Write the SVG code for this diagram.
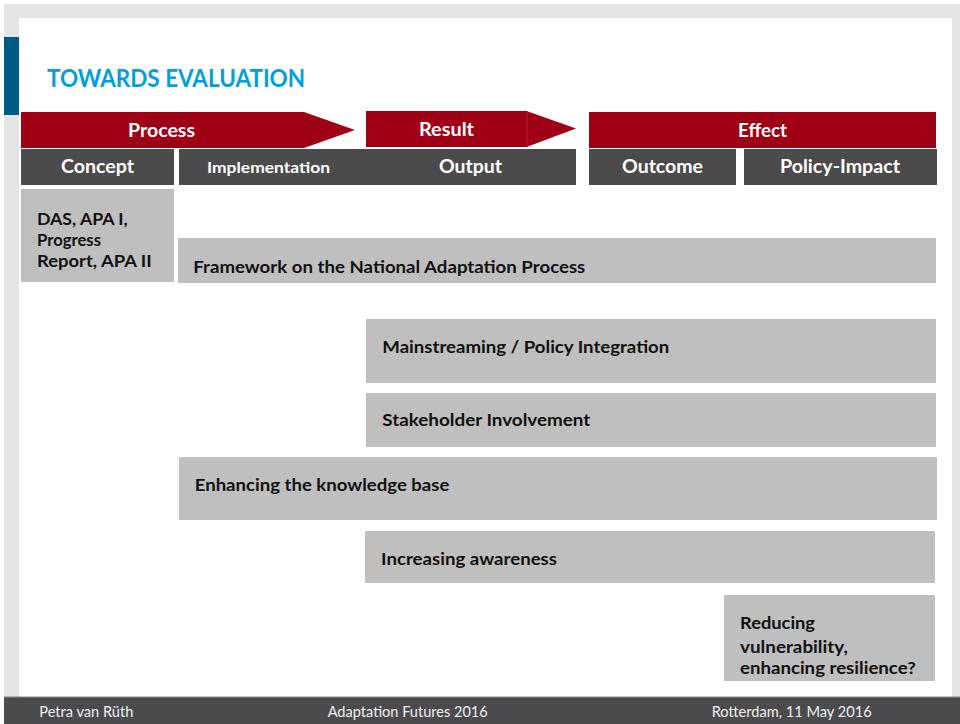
<svg xmlns="http://www.w3.org/2000/svg" width="960" height="724" viewBox="0 0 960 724">
<style>
.red{fill:#a00015}
.dark{fill:#4b4b4b}
.box{fill:#bfbfbf}
.hw{font-family:Lato,"Liberation Sans",sans-serif;font-weight:bold;fill:#ffffff}
.bt{font-family:Lato,"Liberation Sans",sans-serif;font-weight:bold;font-size:17px;fill:#111111}
.ft{font-family:Lato,"Liberation Sans",sans-serif;font-size:16px;fill:#f0f0f0}
</style>
<rect x="0" y="0" width="960" height="724" fill="#ffffff"/>
<rect x="4" y="4" width="956" height="720" fill="#e3e4e4"/>
<rect x="19" y="18" width="933" height="679" fill="#ffffff"/>
<rect x="4" y="37" width="15" height="78" fill="#005a87"/>
<text x="47" y="87" font-family="Lato,'Liberation Sans',sans-serif" font-weight="bold" font-size="25" fill="#00a0dc" textLength="258" lengthAdjust="spacingAndGlyphs">TOWARDS EVALUATION</text>

<g id="process">
<polygon class="red" points="21,112 304,112 355,130 304,148 21,148"/>
<text class="hw" x="128" y="137" font-size="19" textLength="67" lengthAdjust="spacingAndGlyphs">Process</text>
</g>
<g id="result">
<rect class="red" x="366" y="111" width="161" height="36"/>
<polygon class="red" points="526.5,111 576,128.5 526.5,147"/>
<line x1="527" y1="111" x2="527" y2="147" stroke="#b22030" stroke-width="1"/>
<text class="hw" x="419" y="136" font-size="19" textLength="55" lengthAdjust="spacingAndGlyphs">Result</text>
</g>
<g id="effect">
<rect class="red" x="589" y="112" width="347" height="36"/>
<text class="hw" x="738" y="137" font-size="19" textLength="49" lengthAdjust="spacingAndGlyphs">Effect</text>
</g>
<g id="concept">
<rect class="dark" x="21" y="149" width="153" height="36"/>
<text class="hw" x="61" y="173" font-size="18" textLength="73" lengthAdjust="spacingAndGlyphs">Concept</text>
</g>
<g id="implementation-output">
<rect class="dark" x="179" y="149" width="397" height="36"/>
<text class="hw" x="207" y="173" font-size="16" textLength="123" lengthAdjust="spacingAndGlyphs">Implementation</text>
<text class="hw" x="439" y="173" font-size="18" textLength="63" lengthAdjust="spacingAndGlyphs">Output</text>
</g>
<g id="outcome">
<rect class="dark" x="589" y="149" width="147" height="36"/>
<text class="hw" x="622" y="173" font-size="18" textLength="81" lengthAdjust="spacingAndGlyphs">Outcome</text>
</g>
<g id="policy-impact">
<rect class="dark" x="744" y="149" width="193" height="36"/>
<text class="hw" x="780" y="173" font-size="18" textLength="120" lengthAdjust="spacingAndGlyphs">Policy-Impact</text>
</g>

<g id="das">
<rect class="box" x="21" y="189" width="153" height="93"/>
<text class="bt" x="37" y="225" textLength="90.7" lengthAdjust="spacingAndGlyphs">DAS, APA I,</text>
<text class="bt" x="37" y="246" textLength="64" lengthAdjust="spacingAndGlyphs">Progress</text>
<text class="bt" x="37" y="267" textLength="114.7" lengthAdjust="spacingAndGlyphs">Report, APA II</text>
</g>
<g id="framework">
<rect class="box" x="178" y="238" width="758" height="45"/>
<text class="bt" x="193.3" y="272.7" textLength="392" lengthAdjust="spacingAndGlyphs">Framework on the National Adaptation Process</text>
</g>
<g id="mainstreaming">
<rect class="box" x="366" y="319" width="570" height="64"/>
<text class="bt" x="382.3" y="352.7" textLength="287" lengthAdjust="spacingAndGlyphs">Mainstreaming / Policy Integration</text>
</g>
<g id="stakeholder">
<rect class="box" x="366" y="393" width="570" height="54"/>
<text class="bt" x="382.3" y="426" textLength="208" lengthAdjust="spacingAndGlyphs">Stakeholder Involvement</text>
</g>
<g id="knowledge">
<rect class="box" x="179" y="457" width="758" height="63"/>
<text class="bt" x="194.7" y="491" textLength="254.7" lengthAdjust="spacingAndGlyphs">Enhancing the knowledge base</text>
</g>
<g id="awareness">
<rect class="box" x="365" y="531" width="570" height="52"/>
<text class="bt" x="381" y="564.7" textLength="176" lengthAdjust="spacingAndGlyphs">Increasing awareness</text>
</g>
<g id="resilience">
<rect class="box" x="724" y="595" width="211" height="86"/>
<text class="bt" x="740" y="629.3" textLength="75" lengthAdjust="spacingAndGlyphs">Reducing</text>
<text class="bt" x="740" y="652.5" textLength="108" lengthAdjust="spacingAndGlyphs">vulnerability,</text>
<text class="bt" x="740" y="674.3" textLength="175.7" lengthAdjust="spacingAndGlyphs">enhancing resilience?</text>
</g>
<g id="connectors"/>

<g id="footer">
<rect x="4" y="697" width="956" height="27" fill="#4b4b4d"/>
<line x1="4" y1="697" x2="960" y2="697" stroke="#8a8a8a" stroke-width="1"/>
<text class="ft" x="39.3" y="717" textLength="94" lengthAdjust="spacingAndGlyphs">Petra van Rüth</text>
<text class="ft" x="327.7" y="717" textLength="160" lengthAdjust="spacingAndGlyphs">Adaptation Futures 2016</text>
<text class="ft" x="711.7" y="717" textLength="160" lengthAdjust="spacingAndGlyphs">Rotterdam, 11 May 2016</text>
</g>
</svg>
